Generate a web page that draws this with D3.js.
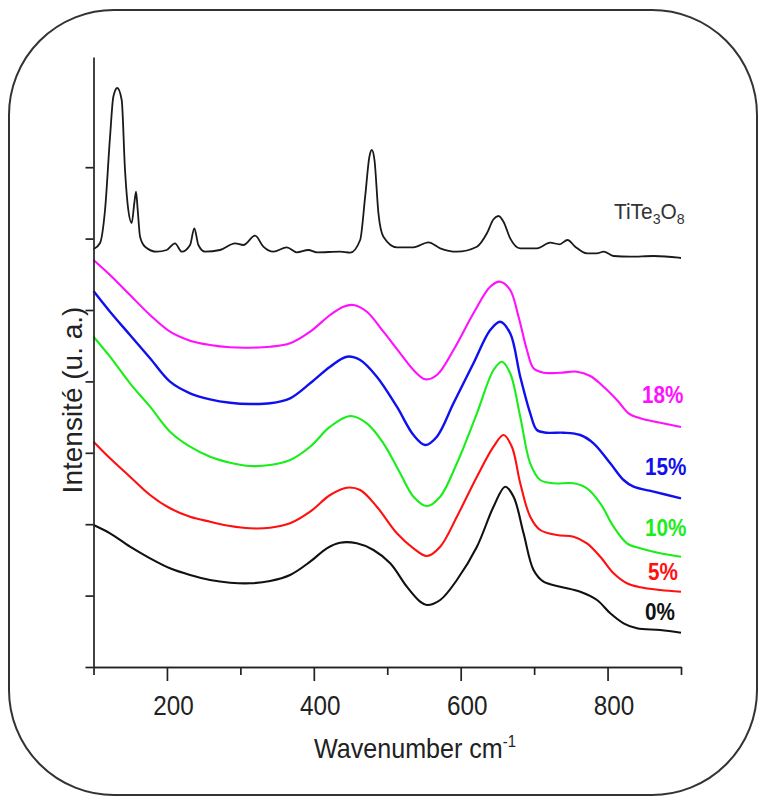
<!DOCTYPE html>
<html><head><meta charset="utf-8">
<script src="https://cdn.jsdelivr.net/npm/d3@7"></script>
<style>body{margin:0;background:#fff;} svg{display:block;font-family:"Liberation Sans",Arial,sans-serif;}</style>
</head><body><svg id="c" width="760" height="800"></svg>
<script>
// ---------- data ----------
const xDomain = [100, 900];
const yDomain = [0, 610];
const xMajorTicks = [200, 400, 600, 800];
const xMinorTicks = [100, 300, 500, 700, 900];
const yTickValues = [0, 71.4, 142.8, 214.2, 285.6, 357, 428.4, 499.8];
const xTitle = "Wavenumber cm";
const xTitleSup = "-1";
const yTitle = "Intensité (u. a.)";
const refLabelParts = ["TiTe", "3", "O", "8"];

const refTiTe3O8 = [
  [100,417.7],[108.9,424],[115.7,457],[122.5,530],[127,570.3],[132.4,579],[138.4,567],[142.9,497],
  [147.4,457],[152,444],[155.6,464],[157.9,475.3],[160.2,457],[163.4,430.3],[170.2,420.3],[186.1,415.3],
  [199.7,417],[211,423.7],[220.2,415.3],[231.5,422],[237.3,438.7],[242.8,422],[251.9,415.3],[272.3,417],
  [292.8,423.7],[304.1,422],[320,431.3],[331.3,420.3],[345,415.3],[363.2,419.7],[376.8,414.7],[392.6,417],
  [404.1,414.7],[435.8,415.3],[449.5,414.3],[463.1,427],[469.9,470.3],[475.7,510.3],[479,517],[482.6,507],
  [488,453.7],[494.8,430.3],[513.1,419.7],[535.7,419.7],[556.1,424.7],[572.1,418.7],[594.8,415.3],
  [622.1,420.3],[635.7,433.7],[644.7,447.7],[651.5,451],[658.3,445.3],[667.4,428.7],[681.1,418.7],
  [703.8,418.7],[721.9,424.3],[734.6,422.7],[745.5,427],[756,420.3],[771.9,413.7],[785.6,413.7],
  [794.6,415.3],[808.2,411],[830.9,410.3],[862.7,411],[896.7,409.3],[900,409]
];
const s18 = [
  [100,407],[122.5,392],[149.7,372],[177,352],[204.2,335.3],[231.5,326.3],[258.7,322],[286,319.7],
  [313.2,319.3],[340.5,320.3],[367.7,323.7],[395,335.3],[422.2,352],[440.3,360.3],[454,362],[472.2,355.3],
  [494.8,335.3],[517.6,313.7],[535.7,297],[551.6,287.7],[567.6,292],[590.2,317],[617.4,353.7],[640.2,380.3],
  [653.8,385.3],[667.4,377],[678.8,350.3],[690.2,317],[699.2,298.7],[712.8,294.3],[735.5,294.3],[758.3,295.3],
  [776.4,291],[794.6,280.3],[812.8,267],[828.6,253.7],[844.5,248.7],[871.8,244.3],[900,240]
];
const s15 = [
  [100,376],[122.5,355.3],[149.7,332],[177,308.7],[204.2,285.3],[231.5,273.7],[258.7,267.7],[286,264.3],
  [313.2,263],[340.5,263.7],[367.7,268.7],[395,283.7],[422.2,300.3],[445,310.3],[463.1,307],[485.8,290.3],
  [513.1,260.3],[535.7,232],[551.6,222],[567.6,230.3],[590.2,263.7],[617.4,303.7],[640.2,337],[653.8,345.3],
  [667.4,333.7],[681.1,290.3],[694.7,253.7],[703.8,237],[717.4,234.3],[740,234.3],[762.8,232],[780.9,223.7],
  [803.7,203.7],[821.8,187],[835.4,180.3],[862.7,175.3],[900,168.7]
];
const s10 = [
  [100,330.3],[122.5,310.3],[149.7,283.7],[177,260.3],[204.2,235.3],[231.5,220.3],[258.7,210.3],[286,204.3],
  [313.2,201],[340.5,202],[367.7,207],[395,220.3],[422.2,240.3],[449.5,251],[472.2,243.7],[494.8,223.7],
  [517.6,193.7],[535.7,170.3],[553.9,161],[572.1,170.3],[594.8,203.7],[622.1,253.7],[644.7,297],[656.1,305.3],
  [667.4,293.7],[681.1,250.3],[694.7,203.7],[708.3,187],[726.4,183.7],[753.7,183.7],[771.9,178.7],[790.1,163.7],
  [808.2,140.3],[826.4,123.7],[844.5,118.7],[871.8,113.7],[900,110.3]
];
const s5 = [
  [100,225.3],[122.5,208.7],[149.7,190.3],[177,172],[204.2,158.7],[231.5,150.3],[258.7,145.3],[286,141],
  [313.2,138.7],[340.5,139.3],[367.7,143.7],[395,155.3],[422.2,172],[445,179.3],[463.1,177],[485.8,160.3],
  [513.1,133.7],[535.7,118.7],[553.9,111],[572.1,120.3],[594.8,150.3],[622.1,190.3],[644.7,220.3],[658.3,232],
  [669.7,220.3],[681.1,183.7],[694.7,150.3],[708.3,137],[731,132],[753.7,130.3],[771.9,123.7],[790.1,110.3],
  [808.2,93.7],[826.4,83.7],[844.5,79.7],[871.8,77],[900,75.3]
];
const s0 = [
  [100,142],[122.5,133.7],[149.7,120.3],[177,108.7],[204.2,98.7],[231.5,92],[258.7,87],[286,84.3],
  [313.2,83.7],[340.5,86],[367.7,92],[395,105.3],[417.7,118.7],[435.8,124.3],[458.6,123.7],[481.2,117],
  [504,103.7],[526.7,80.3],[544.8,65.3],[553.9,62],[572.1,67],[594.8,87],[622.1,120.3],[644.7,160.3],
  [660.6,180.3],[672,170.3],[685.6,133.7],[699.2,97],[712.8,85.3],[735.5,80.3],[762.8,75.3],[785.6,67],
  [803.7,53.7],[821.8,43.7],[840,38.7],[871.8,37],[900,34.3]
];
const seriesNames = ["0%", "5%", "10%", "15%", "18%"];
const seriesData = [s0, s5, s10, s15, s18];
const seriesColors = ["#111111", "#ff1010", "#19ee19", "#1010ee", "#ff10ff"];

// ---------- drawing ----------
const svg = d3.select("#c");
const x = d3.scaleLinear().domain(xDomain).range([93.5, 681]);
const y = d3.scaleLinear().domain(yDomain).range([667, 57]);
const ink = "#222";

// rounded frame
svg.append("rect").attr("x", 9).attr("y", 10).attr("width", 748).attr("height", 785)
  .attr("rx", 105).attr("ry", 105).attr("fill", "none").attr("stroke", "#333").attr("stroke-width", 2);

const peakLine = d3.line().x(d => x(d[0])).y(d => y(d[1])).curve(d3.curveMonotoneX);
const smoothLine = d3.line().x(d => x(d[0])).y(d => y(d[1])).curve(d3.curveCatmullRom.alpha(0.5));

// curves
svg.append("path").datum(refTiTe3O8).attr("d", peakLine).attr("fill", "none")
  .attr("stroke", "#1a1a1a").attr("stroke-width", 1.8).attr("stroke-linejoin", "round");
seriesData.forEach((s, i) => {
  svg.append("path").datum(s).attr("d", smoothLine).attr("fill", "none")
    .attr("stroke", seriesColors[i]).attr("stroke-width", i === 3 ? 2.4 : 2.1).attr("stroke-linejoin", "round");
});

// axes
const yAxis = svg.append("g").attr("transform", `translate(${x(xDomain[0])},0)`)
  .call(d3.axisLeft(y).tickValues(yTickValues).tickSize(8).tickSizeOuter(0).tickFormat(""));
const xMinor = svg.append("g").attr("transform", `translate(0,${y(0)})`)
  .call(d3.axisBottom(x).tickValues(xMinorTicks).tickSize(8).tickSizeOuter(0).tickFormat(""));
const xMajor = svg.append("g").attr("transform", `translate(0,${y(0)})`)
  .call(d3.axisBottom(x).tickValues(xMajorTicks).tickSize(14).tickSizeOuter(0).tickFormat(d3.format("d")));
[yAxis, xMinor, xMajor].forEach(g => {
  g.selectAll("path,line").attr("stroke", ink).attr("stroke-width", 1.7);
});
xMajor.selectAll("text").attr("fill", ink).attr("font-size", 27).attr("font-family", '"Liberation Sans",Arial,sans-serif')
  .attr("y", 0).attr("dy", 0).attr("transform", "translate(6,48) scale(0.9,1)");

// axis titles
const xt = svg.append("text").attr("transform", "translate(314,758) scale(0.93,1)")
  .attr("font-size", 27).attr("fill", ink);
xt.append("tspan").text(xTitle);
xt.append("tspan").attr("font-size", 16).attr("dy", -11).text(xTitleSup);

svg.append("text").attr("transform", "translate(82,400) rotate(-90)")
  .attr("text-anchor", "middle").attr("font-size", 28).attr("fill", ink).text(yTitle);

// reference label
const rl = svg.append("text").attr("transform", "translate(614,219) scale(0.95,1)")
  .attr("font-size", 22).attr("fill", "#333");
rl.append("tspan").text(refLabelParts[0]);
rl.append("tspan").attr("font-size", 15).attr("dy", 5).text(refLabelParts[1]);
rl.append("tspan").attr("dy", -5).text(refLabelParts[2]);
rl.append("tspan").attr("font-size", 15).attr("dy", 5).text(refLabelParts[3]);

// series labels
const labelPos = [[645, 620], [648, 580], [645, 536], [645, 475], [642, 403]];
seriesNames.forEach((n, i) => {
  svg.append("text").attr("transform", `translate(${labelPos[i][0]},${labelPos[i][1]}) scale(0.9,1)`)
    .attr("font-size", 23).attr("font-weight", "bold").attr("fill", seriesColors[i]).text(n);
});
</script></body></html>
